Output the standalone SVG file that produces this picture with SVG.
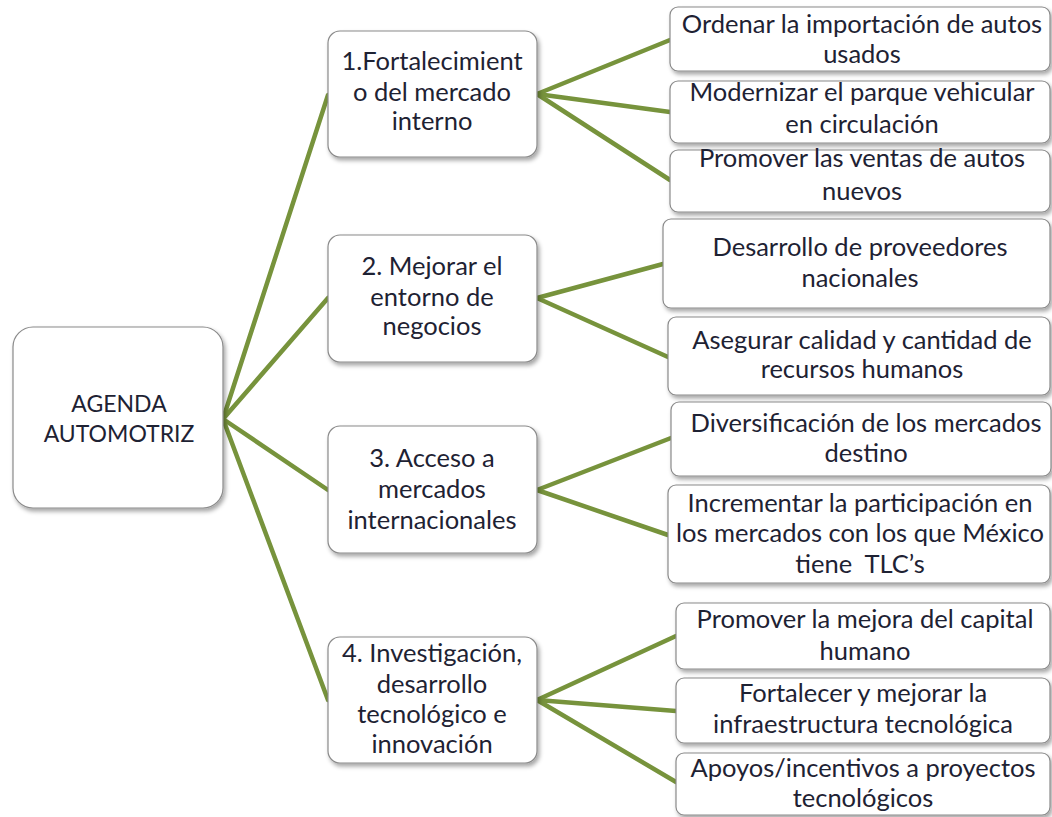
<svg xmlns="http://www.w3.org/2000/svg" width="1052" height="817" viewBox="0 0 1052 817">
  <defs>
    <filter id="shadow" x="-10%" y="-10%" width="125%" height="130%">
      <feDropShadow dx="2" dy="3" stdDeviation="2" flood-color="#000" flood-opacity="0.35"/>
    </filter>
  </defs>
  <style>
    .box { fill: #ffffff; stroke: #8a8a8a; stroke-width: 1.2; filter: url(#shadow); }
    .link { stroke: #77933c; stroke-width: 4.5; stroke-linecap: round; fill: none; }
    text { font-family: Lato, "Open Sans", "Liberation Sans", sans-serif; fill: #1e2233; text-anchor: middle; }
    .r { font-size: 23px; }
    .t { font-size: 25.5px; }
    .s { font-size: 25.5px; }
  </style>
  <rect width="1052" height="817" fill="#ffffff"/>

  <!-- connectors -->
  <g id="connectors">
    <line class="link" x1="223" y1="419" x2="328" y2="95"/>
    <line class="link" x1="223" y1="419" x2="328" y2="298"/>
    <line class="link" x1="223" y1="419" x2="328" y2="490"/>
    <line class="link" x1="223" y1="419" x2="328" y2="700"/>

    <line class="link" x1="537" y1="94" x2="670" y2="40"/>
    <line class="link" x1="537" y1="94" x2="670" y2="112"/>
    <line class="link" x1="537" y1="94" x2="670" y2="180"/>

    <line class="link" x1="537" y1="298" x2="663" y2="264"/>
    <line class="link" x1="537" y1="298" x2="668" y2="357"/>

    <line class="link" x1="537" y1="490" x2="671" y2="438"/>
    <line class="link" x1="537" y1="490" x2="668" y2="535"/>

    <line class="link" x1="537" y1="700" x2="676" y2="636"/>
    <line class="link" x1="537" y1="700" x2="676" y2="711"/>
    <line class="link" x1="537" y1="700" x2="676" y2="782"/>
  </g>

  <!-- root -->
  <g id="root">
    <rect class="box" x="13" y="327" width="210" height="181" rx="20"/>
    <text class="r" x="119" y="412">AGENDA</text>
    <text class="r" x="119" y="442">AUTOMOTRIZ</text>
  </g>

  <!-- strategic lines -->
  <g id="n1">
    <rect class="box" x="328" y="31" width="209" height="126" rx="12"/>
    <text class="t" x="432" y="70">1.Fortalecimient</text>
    <text class="t" x="432" y="101">o del mercado</text>
    <text class="t" x="432" y="130">interno</text>
  </g>
  <g id="n2">
    <rect class="box" x="328" y="235" width="209" height="127" rx="12"/>
    <text class="t" x="432" y="275">2. Mejorar el</text>
    <text class="t" x="432" y="306">entorno de</text>
    <text class="t" x="432" y="335">negocios</text>
  </g>
  <g id="n3">
    <rect class="box" x="328" y="426" width="209" height="127" rx="12"/>
    <text class="t" x="432" y="467">3. Acceso a</text>
    <text class="t" x="432" y="498">mercados</text>
    <text class="t" x="432" y="529">internacionales</text>
  </g>
  <g id="n4">
    <rect class="box" x="328" y="637" width="209" height="126" rx="12"/>
    <text class="t" x="432" y="662">4. Investigación,</text>
    <text class="t" x="432" y="693">desarrollo</text>
    <text class="t" x="432" y="723">tecnológico e</text>
    <text class="t" x="432" y="753">innovación</text>
  </g>

  <!-- actions -->
  <g id="a1">
    <rect class="box" x="670" y="7" width="380" height="64" rx="8"/>
    <text class="s" x="862" y="33">Ordenar la importación de autos</text>
    <text class="s" x="862" y="63">usados</text>
  </g>
  <g id="a2">
    <rect class="box" x="670" y="81" width="380" height="62" rx="8"/>
    <text class="s" x="862" y="101">Modernizar el parque vehicular</text>
    <text class="s" x="862" y="133">en circulación</text>
  </g>
  <g id="a3">
    <rect class="box" x="670" y="150" width="380" height="62" rx="8"/>
    <text class="s" x="862" y="167">Promover las ventas de autos</text>
    <text class="s" x="862" y="200">nuevos</text>
  </g>
  <g id="a4">
    <rect class="box" x="663" y="219" width="387" height="89" rx="8"/>
    <text class="s" x="860" y="256">Desarrollo de proveedores</text>
    <text class="s" x="860" y="287">nacionales</text>
  </g>
  <g id="a5">
    <rect class="box" x="668" y="317" width="382" height="78" rx="8"/>
    <text class="s" x="862" y="349">Asegurar calidad y cantidad de</text>
    <text class="s" x="862" y="378">recursos humanos</text>
  </g>
  <g id="a6">
    <rect class="box" x="671" y="402" width="380" height="74" rx="8"/>
    <text class="s" x="866" y="432">Diversificación de los mercados</text>
    <text class="s" x="866" y="462">destino</text>
  </g>
  <g id="a7">
    <rect class="box" x="668" y="485" width="382" height="98" rx="8"/>
    <text class="s" x="860" y="512">Incrementar la participación en</text>
    <text class="s" x="860" y="542">los mercados con los que México</text>
    <text class="s" x="860" y="573" xml:space="preserve">tiene  TLC’s</text>
  </g>
  <g id="a8">
    <rect class="box" x="676" y="603" width="374" height="66" rx="8"/>
    <text class="s" x="865" y="628">Promover la mejora del capital</text>
    <text class="s" x="865" y="660">humano</text>
  </g>
  <g id="a9">
    <rect class="box" x="676" y="678" width="374" height="65" rx="8"/>
    <text class="s" x="863" y="702">Fortalecer y mejorar la</text>
    <text class="s" x="863" y="733">infraestructura tecnológica</text>
  </g>
  <g id="a10">
    <rect class="box" x="676" y="753" width="374" height="62" rx="8"/>
    <text class="s" x="863" y="777">Apoyos/incentivos a proyectos</text>
    <text class="s" x="863" y="807">tecnológicos</text>
  </g>
</svg>
